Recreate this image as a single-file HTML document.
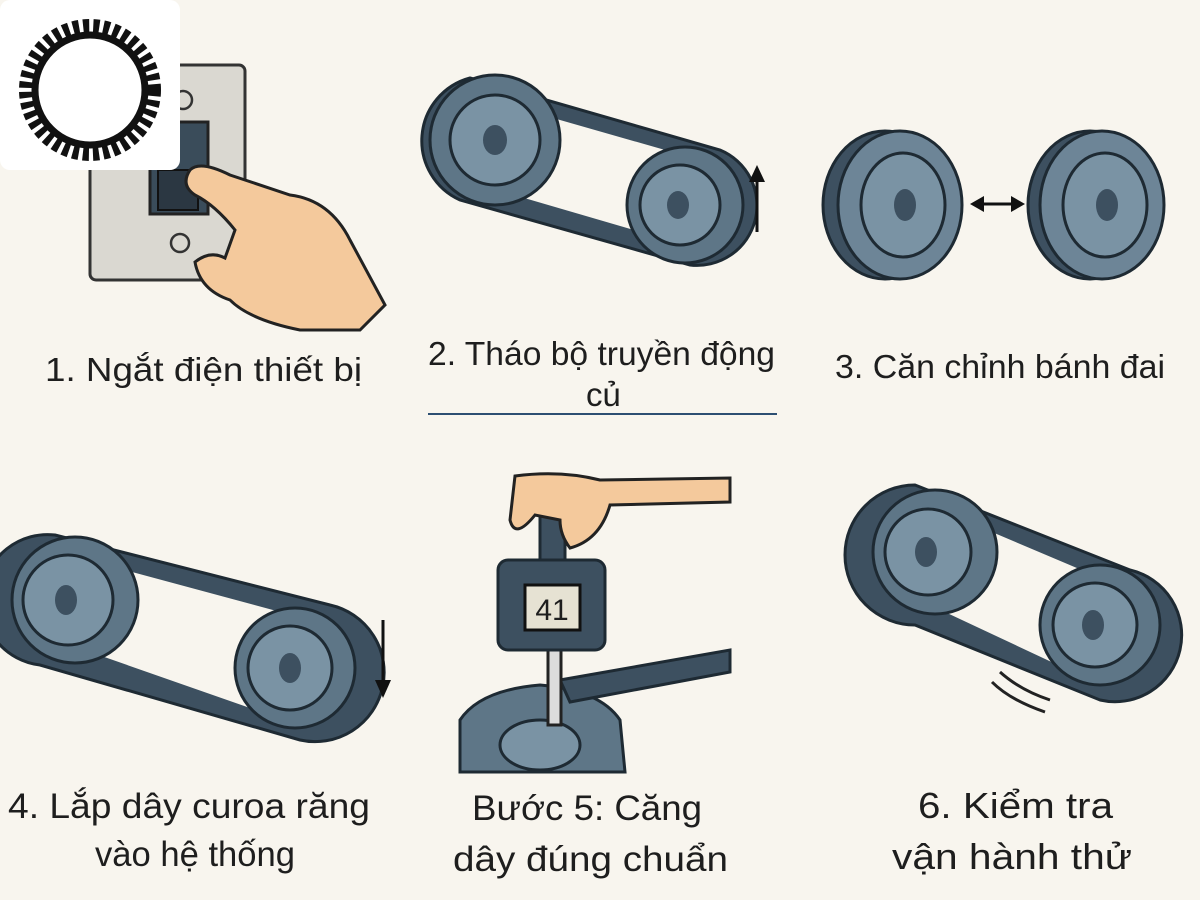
<!DOCTYPE html>
<html><head><meta charset="utf-8">
<style>
html,body{margin:0;padding:0;background:#f8f5ee;}
svg{display:block}
text{font-family:"Liberation Sans","DejaVu Sans",sans-serif;fill:#1e1e1e}
</style></head><body>
<svg width="1200" height="900" viewBox="0 0 1200 900" xmlns="http://www.w3.org/2000/svg">
<rect width="1200" height="900" fill="#f8f5ee"/>

<!-- Panel 1 switch -->
<rect x="90" y="65" width="155" height="215" rx="6" fill="#dad8d1" stroke="#333" stroke-width="3"/>
<circle cx="183" cy="100" r="9" fill="none" stroke="#333" stroke-width="2.5"/>
<circle cx="180" cy="243" r="9" fill="none" stroke="#333" stroke-width="2.5"/>
<rect x="150" y="122" width="58" height="92" fill="#3a4c5a" stroke="#222" stroke-width="3"/>
<rect x="158" y="170" width="40" height="40" fill="#2b3742" stroke="#111" stroke-width="2"/>
<path d="M190 170 Q200 160 230 175 L290 195 Q330 200 350 240 L385 305 L360 330 L300 330 Q250 320 230 300 Q200 290 195 262 Q210 250 225 258 L235 230 Q215 205 195 195 Q180 185 190 170Z" fill="#f4c99c" stroke="#222" stroke-width="3"/>

<!-- Logo box -->
<rect x="0" y="0" width="180" height="170" rx="10" fill="#ffffff"/>
<circle cx="90" cy="90" r="63" fill="none" stroke="#111" stroke-width="16" stroke-dasharray="6 4"/>
<circle cx="90" cy="90" r="55" fill="none" stroke="#111" stroke-width="7"/>
<circle cx="90" cy="90" r="50" fill="#fff"/>

<!-- Panel 2 belt -->
<path d="M470 78 L720 150 A60 60 0 0 1 690 265 L460 200 A65 65 0 0 1 470 78Z" fill="#3d5060" stroke="#1e2a33" stroke-width="3"/>
<path d="M490 100 L700 160 A45 45 0 0 1 685 245 L480 185Z" fill="#f8f5ee"/>
<circle cx="495" cy="140" r="65" fill="#5e7687" stroke="#1e2a33" stroke-width="3"/>
<circle cx="495" cy="140" r="45" fill="#7a93a4" stroke="#1e2a33" stroke-width="3"/>
<ellipse cx="495" cy="140" rx="12" ry="15" fill="#3d5060"/>
<circle cx="685" cy="205" r="58" fill="#5e7687" stroke="#1e2a33" stroke-width="3"/>
<circle cx="680" cy="205" r="40" fill="#7a93a4" stroke="#1e2a33" stroke-width="3"/>
<ellipse cx="678" cy="205" rx="11" ry="14" fill="#3d5060"/>
<line x1="757" y1="232" x2="757" y2="180" stroke="#111" stroke-width="3"/>
<path d="M749 182 L757 165 L765 182Z" fill="#111"/>

<!-- Panel 3 pulleys -->
<ellipse cx="885" cy="205" rx="62" ry="74" fill="#3d5060" stroke="#1e2a33" stroke-width="3"/>
<ellipse cx="900" cy="205" rx="62" ry="74" fill="#6d8597" stroke="#1e2a33" stroke-width="3"/>
<ellipse cx="903" cy="205" rx="42" ry="52" fill="#7a93a4" stroke="#1e2a33" stroke-width="3"/>
<ellipse cx="905" cy="205" rx="11" ry="16" fill="#3d5060"/>
<ellipse cx="1090" cy="205" rx="62" ry="74" fill="#3d5060" stroke="#1e2a33" stroke-width="3"/>
<ellipse cx="1102" cy="205" rx="62" ry="74" fill="#6d8597" stroke="#1e2a33" stroke-width="3"/>
<ellipse cx="1105" cy="205" rx="42" ry="52" fill="#7a93a4" stroke="#1e2a33" stroke-width="3"/>
<ellipse cx="1107" cy="205" rx="11" ry="16" fill="#3d5060"/>
<line x1="980" y1="204" x2="1015" y2="204" stroke="#111" stroke-width="3"/>
<path d="M984 196 L970 204 L984 212Z M1011 196 L1025 204 L1011 212Z" fill="#111"/>

<text x="45" y="381" font-size="33" textLength="317" lengthAdjust="spacingAndGlyphs">1. Ngắt điện thiết bị</text>
<text x="428" y="365" font-size="33" textLength="347" lengthAdjust="spacingAndGlyphs">2. Tháo bộ truyền động</text>
<text x="586" y="406" font-size="33">củ</text>
<line x1="428" y1="414" x2="777" y2="414" stroke="#2d4f72" stroke-width="2"/>
<text x="835" y="378" font-size="33" textLength="330" lengthAdjust="spacingAndGlyphs">3. Căn chỉnh bánh đai</text>

<!-- Panel 4 belt -->
<path d="M55 535 L330 605 A65 65 0 0 1 300 740 L40 665 A65 65 0 0 1 55 535Z" fill="#3d5060" stroke="#1e2a33" stroke-width="3"/>
<path d="M80 558 L310 620 A50 50 0 0 1 290 722 L70 645Z" fill="#f8f5ee"/>
<circle cx="75" cy="600" r="63" fill="#5e7687" stroke="#1e2a33" stroke-width="3"/>
<circle cx="68" cy="600" r="45" fill="#7a93a4" stroke="#1e2a33" stroke-width="3"/>
<ellipse cx="66" cy="600" rx="11" ry="15" fill="#3d5060"/>
<circle cx="295" cy="668" r="60" fill="#5e7687" stroke="#1e2a33" stroke-width="3"/>
<circle cx="290" cy="668" r="42" fill="#7a93a4" stroke="#1e2a33" stroke-width="3"/>
<ellipse cx="290" cy="668" rx="11" ry="15" fill="#3d5060"/>
<line x1="383" y1="620" x2="383" y2="682" stroke="#111" stroke-width="3"/>
<path d="M375 680 L383 698 L391 680Z" fill="#111"/>

<!-- Panel 5 gauge -->
<path d="M460 772 L460 720 Q480 690 540 685 Q600 690 620 720 L625 772Z" fill="#5e7687" stroke="#1e2a33" stroke-width="3"/>
<ellipse cx="540" cy="745" rx="40" ry="25" fill="#7a93a4" stroke="#1e2a33" stroke-width="3"/>
<path d="M560 680 L730 650 L730 672 L570 702Z" fill="#3d5060" stroke="#1e2a33" stroke-width="3"/>
<rect x="548" y="640" width="13" height="85" fill="#dcdcdc" stroke="#222" stroke-width="3"/>
<rect x="498" y="560" width="107" height="90" rx="10" fill="#3d5060" stroke="#1e2a33" stroke-width="3"/>
<rect x="525" y="585" width="55" height="45" fill="#e6e2d3" stroke="#111" stroke-width="3"/>
<text x="552" y="620" font-size="30" text-anchor="middle" fill="#111">41</text>
<rect x="540" y="510" width="25" height="50" fill="#3d5060" stroke="#1e2a33" stroke-width="3"/>
<path d="M515 476 Q560 470 600 480 L730 478 L730 502 L610 505 Q600 540 570 548 Q560 535 560 520 L535 515 Q515 540 510 520Z" fill="#f4c99c" stroke="#222" stroke-width="3"/>

<text x="8" y="818" font-size="35" textLength="362" lengthAdjust="spacingAndGlyphs">4. Lắp dây curoa răng</text>
<text x="95" y="866" font-size="35" textLength="200" lengthAdjust="spacingAndGlyphs">vào hệ thống</text>
<text x="472" y="820" font-size="35" textLength="230" lengthAdjust="spacingAndGlyphs">Bước 5: Căng</text>
<text x="453" y="871" font-size="35" textLength="275" lengthAdjust="spacingAndGlyphs">dây đúng chuẩn</text>

<!-- Panel 6 belt -->
<path d="M915 485 L1130 570 A62 62 0 0 1 1100 700 L915 625 A70 70 0 0 1 915 485Z" fill="#3d5060" stroke="#1e2a33" stroke-width="3"/>
<path d="M940 510 L1110 582 A48 48 0 0 1 1090 680 L930 605Z" fill="#f8f5ee"/>
<circle cx="935" cy="552" r="62" fill="#5e7687" stroke="#1e2a33" stroke-width="3"/>
<circle cx="928" cy="552" r="43" fill="#7a93a4" stroke="#1e2a33" stroke-width="3"/>
<ellipse cx="926" cy="552" rx="11" ry="15" fill="#3d5060"/>
<circle cx="1100" cy="625" r="60" fill="#5e7687" stroke="#1e2a33" stroke-width="3"/>
<circle cx="1095" cy="625" r="42" fill="#7a93a4" stroke="#1e2a33" stroke-width="3"/>
<ellipse cx="1093" cy="625" rx="11" ry="15" fill="#3d5060"/>
<path d="M992 682 Q1010 700 1045 712 M1000 672 Q1020 690 1050 700" fill="none" stroke="#222" stroke-width="3"/>

<text x="918" y="818" font-size="36" textLength="195" lengthAdjust="spacingAndGlyphs">6. Kiểm tra</text>
<text x="892" y="869" font-size="36" textLength="240" lengthAdjust="spacingAndGlyphs">vận hành thử</text>
</svg>
</body></html>
